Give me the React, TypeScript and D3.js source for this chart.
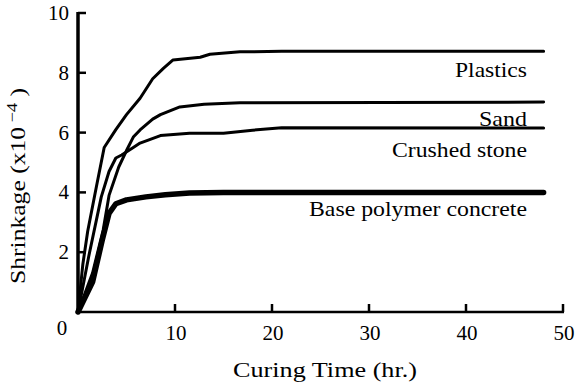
import React from "react";
import * as d3 from "d3";

// Shrinkage of polymer concrete vs curing time
const seriesNames = ["Plastics", "Sand", "Crushed stone", "Base polymer concrete"];

const plasticsData = [
  [0, 0], [0.5, 1.6], [1, 2.7], [1.9, 4.2], [2.7, 5.5], [3.9, 6.1], [5, 6.6],
  [6.4, 7.15], [7.7, 7.8], [8.8, 8.15], [9.8, 8.43], [12.6, 8.52], [13.6, 8.62],
  [16.7, 8.7], [21, 8.72], [48, 8.72],
];
const sandData = [
  [0, 0], [1.5, 1.3], [2.6, 2.75], [3.2, 3.9], [4.2, 4.85], [5, 5.4], [5.7, 5.85],
  [6.4, 6.09], [7.7, 6.45], [8.5, 6.6], [10.5, 6.86], [13, 6.95], [16.7, 7.0], [48, 7.02],
];
const crushedData = [
  [0, 0], [1.1, 1.85], [2.4, 3.85], [3.2, 4.7], [3.9, 5.15], [4.5, 5.25], [5.7, 5.5],
  [6.4, 5.65], [8.5, 5.9], [11.5, 5.98], [15, 5.98], [18, 6.08], [21, 6.16], [48, 6.15],
];
const baseData = [
  [0, 0], [1.5, 1.0], [2.5, 2.4], [3.2, 3.3], [3.9, 3.62], [5, 3.75], [7, 3.85],
  [9, 3.92], [11.5, 3.98], [15, 4.0], [48, 4.0],
];

const xTicks = [10, 20, 30, 40, 50];
const yTicks = [2, 4, 6, 8, 10];

const allSeries = [plasticsData, sandData, crushedData, baseData];

// layout
const W = 580;
const H = 382;
const FONT = "Liberation Serif";
const strokeWidths = [3, 3, 3, 5.5];
const labelDy = [26, 24, 29, 24];
const labelLengths = [72, 48, 135, 218];

function T(props: any) {
  const { children, ...rest } = props;
  return (
    <text fontFamily={FONT} style={{ fontFamily: `"${FONT}"` }} {...rest}>
      {children}
    </text>
  );
}

export default function App() {
  const x = d3.scaleLinear().domain([0, 50]).range([78, 563]);
  const y = d3.scaleLinear().domain([0, 10]).range([312, 13]);

  const line = d3
    .line<number[]>()
    .x((d) => x(d[0]))
    .y((d) => y(d[1]));

  return (
    <svg width={W} height={H} fontFamily={FONT} style={{ position: "absolute", left: 0, top: 0 }}>
      <style>{`text { font-family: "Liberation Serif", "Times New Roman", serif; }`}</style>
      <rect width={W} height={H} fill="#fff" />

      {/* curves */}
      {allSeries.map((s, i) => (
        <path
          key={seriesNames[i]}
          d={line(s) || ""}
          fill="none"
          stroke="#000"
          strokeWidth={strokeWidths[i]}
          strokeLinejoin="round"
          strokeLinecap="round"
        />
      ))}

      {/* series labels, right aligned under line ends */}
      {allSeries.map((s, i) => (
        <T
          key={"lbl" + i}
          x={527}
          y={y(s[s.length - 1][1]) + labelDy[i]}
          textAnchor="end"
          fontSize={22}
          textLength={labelLengths[i]}
          lengthAdjust="spacingAndGlyphs"
        >
          {seriesNames[i]}
        </T>
      ))}

      {/* y axis */}
      <line x1={x(0)} x2={x(0)} y1={y(0) + 1} y2={y(10) - 1} stroke="#000" strokeWidth={3.5} />
      {yTicks.map((t) => (
        <g key={"yt" + t}>
          <line x1={x(0)} x2={x(0) + 8} y1={y(t)} y2={y(t)} stroke="#000" strokeWidth={2.5} />
          <T x={69} y={y(t) + 7} textAnchor="end" fontSize={21}>
            {t}
          </T>
        </g>
      ))}

      {/* x axis */}
      <line x1={x(0) - 1} x2={x(50) + 1} y1={y(0)} y2={y(0)} stroke="#000" strokeWidth={2.5} />
      {xTicks.map((t) => (
        <g key={"xt" + t}>
          <line x1={x(t)} x2={x(t)} y1={y(0)} y2={y(0) - 8} stroke="#000" strokeWidth={2.5} />
          <T x={x(t) + 1} y={340} textAnchor="middle" fontSize={21}>
            {t}
          </T>
        </g>
      ))}
      <T x={62} y={335} textAnchor="middle" fontSize={21}>
        0
      </T>

      {/* axis titles */}
      <T x={325} y={377} textAnchor="middle" fontSize={21} textLength={184} lengthAdjust="spacingAndGlyphs">
        Curing Time (hr.)
      </T>
      <T
        transform="translate(25,186) rotate(-90)"
        textAnchor="middle"
        fontSize={21}
        textLength={196}
        lengthAdjust="spacingAndGlyphs"
      >
        Shrinkage (x10
        <tspan fontSize={15} dy={-8}>
          {" \u22124"}
        </tspan>
        <tspan dy={8}>{" )"}</tspan>
      </T>
    </svg>
  );
}
